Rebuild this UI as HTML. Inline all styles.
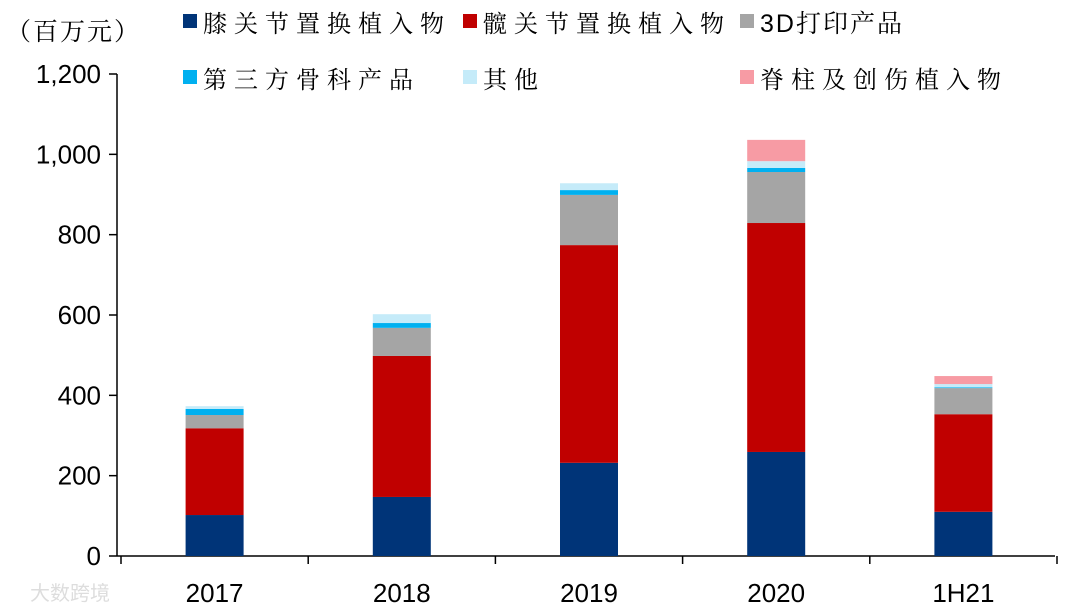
<!DOCTYPE html>
<html><head><meta charset="utf-8"><style>
body{margin:0;background:#fff;}
svg text{font-family:"Liberation Sans","Noto Sans CJK SC",sans-serif;}
.cjk{font-family:"Liberation Serif","Noto Serif CJK SC",serif;font-size:24px;letter-spacing:7px;}
</style></head><body>
<svg id="chart" width="1080" height="610" viewBox="0 0 1080 610" xmlns="http://www.w3.org/2000/svg">
<text x="6" y="40" class="cjk" style="letter-spacing:2px;font-size:25px">（百万元）</text>
<g id="legend"></g>
<g id="axes"></g>
<g id="bars"></g>
<text x="30" y="600" font-size="20" fill="#ddd">大数跨境</text>
</svg>
<script>
const categories=["2017","2018","2019","2020","1H21"];
const seriesNames=["膝关节置换植入物","髋关节置换植入物","3D打印产品","第三方骨科产品","其他","脊柱及创伤植入物"];
const knee=[102,147,232,259,110];
const hip=[216,351,542,570,243];
const print3d=[33,70,125,127,65];
const thirdParty=[15,12,12,10,2];
const others=[7,22,17,17,8];
const spine=[0,0,0,53,20];
const yTicks=[0,200,400,600,800,1000,1200];
const yTickLabels=["0","200","400","600","800","1,000","1,200"];
const colors=["#003478","#C00000","#A5A5A5","#00B0F0","#C5EBF9","#F79BA4"];
const series=[knee,hip,print3d,thirdParty,others,spine];
const NS="http://www.w3.org/2000/svg";
const x0=117,x1=1055,y0=556,yTop=74;
const cx0=121,cx1=1057;
function yScale(v){return y0-(v/1200)*(y0-yTop);}
const step=(cx1-cx0)/categories.length;
function xCenter(i){return cx0+step*(i+0.5);}
function mk(tag,attrs,parent){const e=document.createElementNS(NS,tag);for(const k in attrs)e.setAttribute(k,attrs[k]);parent.appendChild(e);return e;}
const axes=document.getElementById('axes');
let l=mk('line',{x1:x0,y1:yTop,x2:x0,y2:y0,stroke:'#000','stroke-width':1.5},axes);


l=mk('line',{x1:x0,y1:y0,x2:x1,y2:y0,stroke:'#000','stroke-width':1.5},axes);


yTicks.forEach((t,i)=>{const y=yScale(t);
 const tk=mk('line',{x1:x0-8,y1:y,x2:x0,y2:y,stroke:'#000','stroke-width':1.5},axes);
 
 
 const tx=mk('text',{x:101,y:y+9,'text-anchor':'end','font-size':26},axes);tx.textContent=yTickLabels[i];
 
 
});
for(let i=0;i<=categories.length;i++){const x=cx0+step*i;
 const tk=mk('line',{x1:x,y1:y0,x2:x,y2:y0+8,stroke:'#000','stroke-width':1.5},axes);
 
 }
const bars=document.getElementById('bars');
const bw=58;
categories.forEach((c,i)=>{let cum=0;
 series.forEach((s,k)=>{const v=s[i];if(v<=0)return;
  const r=mk('rect',{x:xCenter(i)-bw/2,y:yScale(cum+v),width:bw,height:yScale(cum)-yScale(cum+v),fill:colors[k]},bars);
  
  
  cum+=v;});
 const tx=mk('text',{x:xCenter(i),y:602,'text-anchor':'middle','font-size':26},axes);tx.textContent=c;
 
 
});
const legend=document.getElementById('legend');
const lx=[183,463,740],ly=[32,88];
seriesNames.forEach((n,k)=>{const x=lx[k%3],y=ly[Math.floor(k/3)];
 const g=mk('g',{},legend);
 
 
 mk('rect',{x:x,y:y-18,width:14,height:14,fill:colors[k]},g);
 const t=mk('text',{x:x+20,y:y,class:n.startsWith('3D')?'':'cjk','font-size':24},g);t.textContent=n;
 if(n.startsWith('3D')){t.setAttribute('style','font-family:"Liberation Sans","Noto Serif CJK SC",sans-serif;letter-spacing:2px;font-size:25px');}
});
</script>
</body></html>
